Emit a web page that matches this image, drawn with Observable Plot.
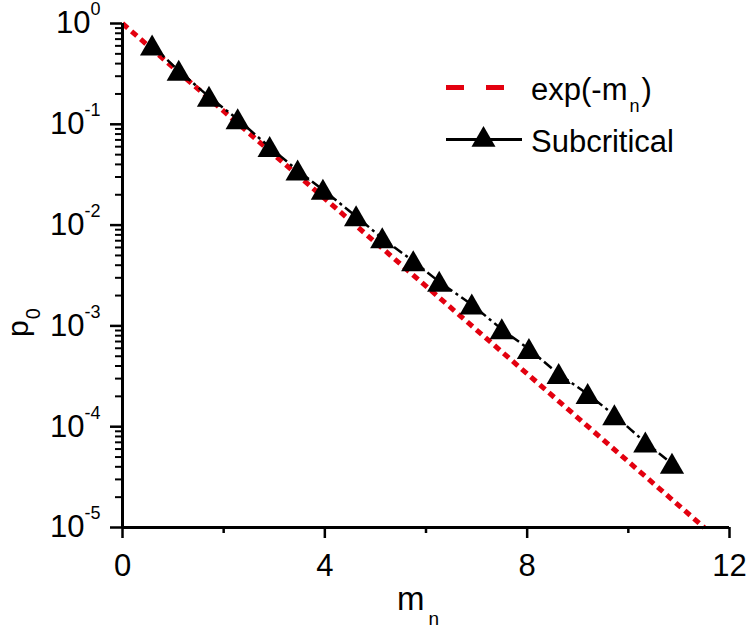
<!DOCTYPE html>
<html>
<head>
<meta charset="utf-8">
<script src="https://cdn.jsdelivr.net/npm/d3@7"></script>
<script src="https://cdn.jsdelivr.net/npm/@observablehq/plot@0.6"></script>
<style>
  html, body { margin: 0; padding: 0; background: #fff; }
  #chart { width: 750px; height: 629px; }
</style>
</head>
<body>
<div id="chart"></div>
<script>
// ---- data ----
const subX = [0.585, 1.112, 1.710, 2.277, 2.909, 3.462, 3.962, 4.618, 5.135, 5.748,
              6.261, 6.905, 7.498, 8.035, 8.623, 9.196, 9.724, 10.336, 10.863];
const subY = [0.605, 0.340, 0.1875, 0.112, 0.0594, 0.0348, 0.0224, 0.01223, 0.00740, 0.00439,
              0.00274, 0.00163, 0.000925, 0.000589, 0.000333, 0.000211, 0.000130, 6.97e-5, 4.30e-5];
const expX = [0, 2, 4, 6, 8, 10, 11.5];
const expY = [1, 0.135, 0.0183, 0.00248, 0.000335, 4.5e-5, 1.0e-5];

const xMajor = [0, 4, 8, 12];
const xMinor = [2, 6, 10];
const yMajor = [1, 1e-1, 1e-2, 1e-3, 1e-4, 1e-5];
const yMinorMult = [2, 3, 4, 5, 6, 7, 8, 9];
const yMinor = yMajor.slice(1).flatMap(d => yMinorMult.map(m => m * d));

const seriesNames = ["exp(-m", "Subcritical"];
const xTitle = ["m", "n"];
const yTitle = ["p", "0"];

const subData = subX.map((x, i) => ({x, y: subY[i]}));
const expData = expX.map((x, i) => ({x, y: expY[i]}));

const FONT = "'Liberation Sans', Arial, Helvetica, sans-serif";
const RED = "#e3000f";

const svg = Plot.plot({
  width: 750,
  height: 629,
  marginLeft: 122,
  marginRight: 21,
  marginTop: 23,
  marginBottom: 102,
  style: {fontFamily: FONT, color: "black", background: "white", overflow: "visible"},
  x: {domain: [0, 12]},
  y: {type: "log", domain: [1e-5, 1]},
  marks: [
    Plot.axisX({ticks: xMajor, tickSize: 11, tickPadding: 15, fontSize: 31, strokeWidth: 2.5, label: null, tickFormat: d => String(d)}),
    Plot.axisX({ticks: xMinor, tickSize: 6, strokeWidth: 2.5, label: null, tickFormat: () => ""}),
    Plot.axisY({ticks: yMajor, tickSize: 12, tickPadding: 10, fontSize: 31, strokeWidth: 2.5, label: null,
                tickFormat: d => String(Math.round(Math.log10(d)))}),
    Plot.axisY({ticks: yMinor, tickSize: 7, strokeWidth: 2, label: null, tickFormat: () => ""}),
    Plot.line(expData, {x: "x", y: "y", stroke: RED, strokeWidth: 5, strokeDasharray: "7,5", strokeLinecap: "butt"}),
    Plot.line(subData, {x: "x", y: "y", stroke: "black", strokeWidth: 2.5, strokeDasharray: "10,4,3,4", strokeLinecap: "butt"}),
    Plot.dot(subData, {x: "x", y: "y", symbol: "triangle", r: 9, fill: "black", stroke: null, dy: 3}),
    Plot.ruleX([0], {strokeWidth: 3}),
    Plot.ruleY([1e-5], {strokeWidth: 3})
  ]
});

document.getElementById("chart").appendChild(svg);

// superscripted y tick labels: 10^e
d3.select(svg).selectAll('g[aria-label="y-axis tick label"] text').each(function() {
  const e = this.textContent;
  if (!e) return;
  const t = d3.select(this);
  t.text("10");
  t.append("tspan").attr("dy", -18).attr("font-size", 18).text(e);
});

const root = d3.select(svg);

// axis titles
root.append("text")
  .attr("x", 397).attr("y", 610).attr("text-anchor", "start")
  .attr("font-family", FONT).attr("font-size", 33).attr("fill", "black")
  .call(t => {
    t.append("tspan").text(xTitle[0]);
    t.append("tspan").attr("dx", 4).attr("dy", 15).attr("font-size", 19).text(xTitle[1]);
  });

root.append("text")
  .attr("transform", "translate(28,337) rotate(-90)").attr("text-anchor", "start")
  .attr("font-family", FONT).attr("font-size", 30).attr("fill", "black")
  .call(t => {
    t.append("tspan").text(yTitle[0]);
    t.append("tspan").attr("dx", 1).attr("dy", 12).attr("font-size", 20).text(yTitle[1]);
  });

// legend
const lg = root.append("g").attr("font-family", FONT).attr("fill", "black").attr("text-anchor", "start");
lg.append("line").attr("x1", 446).attr("x2", 504).attr("y1", 87.5).attr("y2", 87.5)
  .attr("stroke", RED).attr("stroke-width", 5).attr("stroke-dasharray", "18,22");
lg.append("text").attr("x", 531).attr("y", 99.5).attr("font-size", 31)
  .call(t => {
    t.append("tspan").text(seriesNames[0]);
    t.append("tspan").attr("dx", 2).attr("dy", 12).attr("font-size", 18).text("n");
    t.append("tspan").attr("dx", 2).attr("dy", -12).text(")");
  });
lg.append("line").attr("x1", 446).attr("x2", 522).attr("y1", 139.5).attr("y2", 139.5)
  .attr("stroke", "black").attr("stroke-width", 3);
lg.append("path").attr("d", d3.symbol(d3.symbolTriangle, 250)())
  .attr("transform", "translate(483.5,139.8)").attr("fill", "black");
lg.append("text").attr("x", 531).attr("y", 151.7).attr("font-size", 31).text(seriesNames[1]);
</script>
</body>
</html>
